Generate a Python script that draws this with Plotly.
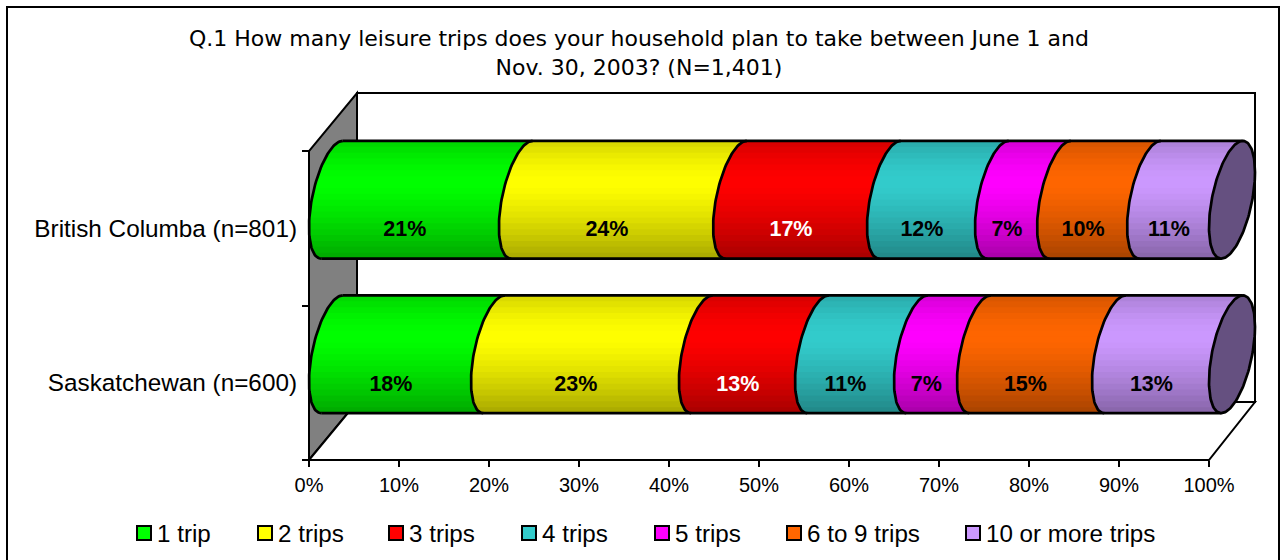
import numpy as np
import plotly.graph_objects as go

# ---- data ----
title_text = "Q.1 How many leisure trips does your household plan to take between June 1 and<br>Nov. 30, 2003? (N=1,401)"
series_names = ["1 trip", "2 trips", "3 trips", "4 trips", "5 trips", "6 to 9 trips", "10 or more trips"]
categories = ["Saskatchewan (n=600)", "British Columba (n=801)"]
saskatchewan_values = [18.0, 23.1, 12.9, 11.0, 7.0, 15.0, 13.0]
british_columbia_values = [21.1, 23.8, 17.1, 12.0, 6.9, 10.0, 9.1]
saskatchewan_labels = ["18%", "23%", "13%", "11%", "7%", "15%", "13%"]
british_columbia_labels = ["21%", "24%", "17%", "12%", "7%", "10%", "11%"]
x_ticks = [0, 10, 20, 30, 40, 50, 60, 70, 80, 90, 100]

# ---- styles ----
colors = ["#00FF00", "#FFFF00", "#FF0000", "#33CCCC", "#FF00FF", "#FF6600", "#CC99FF"]
label_colors = ["black", "black", "white", "black", "black", "black", "black"]
cap_color = "#655080"
FONT = "Liberation Sans"
TITLE_FONT = "DejaVu Sans"

W, H = 1281, 560
AX_L, AX_R, AX_T, AX_B = 309, 1209, 151, 460  # axis rectangle in the page (0-100 %, 0-2 categories)
XU = (AX_R - AX_L) / 100.0                    # page px per percent
YU = (AX_B - AX_T) / 2.0                      # page px per category
PL, PR, PT, PB = 298, 1270, 80, 472           # plotting area, big enough to hold the 3-D walls
X_RANGE = [(PL - AX_L) / XU, (PR - AX_L) / XU]
Y_RANGE = [(AX_B - PB) / YU, (AX_B - PT) / YU]

# cylinder projection, px converted to axis units
BAR_DX = 46 / XU
BAR_DY = 55 / YU
BAR_H = 104 / YU
BAR_LIFT = 28.5 / YU
WALL_DXL = 48 / XU
WALL_DXR = 46 / XU
WALL_DY = 58 / YU
LABEL_DROP = 2.5 / YU
N_BANDS = 20


def shade(hex_color, f):
    r, g, b = int(hex_color[1:3], 16), int(hex_color[3:5], 16), int(hex_color[5:7], 16)
    return "rgb(%d,%d,%d)" % (r * f, g * f, b * f)


def band_factor(u):
    """u = 0 at top of cylinder, 1 at bottom"""
    if u < 0.37:
        return 0.84 + (1 - 0.84) * np.sin(u / 0.37 * np.pi / 2)
    return 1 - (1 - 0.66) * ((u - 0.37) / 0.63) ** 1.3


def px_x(px):
    return (px - PL) / (PR - PL)


def px_y(px):
    return (PB - px) / (PB - PT)


t = np.radians(np.linspace(0, 360, 145))


def ellipse(x0, yc):
    return (x0 + BAR_DX / 2 + BAR_DX / 2 * np.cos(t),
            yc + BAR_DY / 2 * np.cos(t) + BAR_H / 2 * np.sin(t))


half_y = np.hypot(BAR_DY, BAR_H) / 2
tt = np.arctan2(BAR_H, BAR_DY)
arc_t = np.linspace(tt, tt + np.pi, 61)
arc_dx = BAR_DX / 2 + BAR_DX / 2 * np.cos(arc_t)     # offset in x from the bar's value
arc_dy = BAR_DY / 2 * np.cos(arc_t) + BAR_H / 2 * np.sin(arc_t)  # offset in y, top to bottom


def left_x(dy):
    return np.interp(-dy, -arc_dy, arc_dx)


rows = [(c, v, l) for c, v, l in zip([0.5, 1.5],
                                     [saskatchewan_values, british_columbia_values],
                                     [saskatchewan_labels, british_columbia_labels])]

fig = go.Figure()

# shaded strips, one trace per series per band
edges = np.linspace(half_y, -half_y, N_BANDS + 1)
for s, col in enumerate(colors):
    for b in range(N_BANDS):
        xs, ys = [], []
        for cat, vals, _ in rows:
            start = float(np.sum(vals[:s]))
            end = start + vals[s]
            yc = cat + BAR_LIFT
            d = np.linspace(edges[b], edges[b + 1] - (0.8 / YU if b < N_BANDS - 1 else 0), 5)
            d = np.clip(d, -half_y, half_y)
            lx = left_x(d)
            xs += list(start + lx) + list(end + lx[::-1]) + [None]
            ys += list(yc + d) + list(yc + d[::-1]) + [None]
        fig.add_trace(go.Scatter(x=xs, y=ys, mode="lines", fill="toself",
                                 fillcolor=shade(col, band_factor((b + .5) / N_BANDS)),
                                 line=dict(width=0), hoverinfo="skip", showlegend=False))

# black outlines of each segment
ox, oy = [], []
for cat, vals, _ in rows:
    yc = cat + BAR_LIFT
    cum = np.cumsum([0] + vals)
    for c in cum[:-1]:
        ox += list(c + arc_dx) + [None]
        oy += list(yc + arc_dy) + [None]
    ox += [left_x(half_y), cum[-1] + left_x(half_y), None, left_x(-half_y), cum[-1] + left_x(-half_y), None]
    oy += [yc + half_y, yc + half_y, None, yc - half_y, yc - half_y, None]
fig.add_trace(go.Scatter(x=ox, y=oy, mode="lines", line=dict(color="black", width=2.7), hoverinfo="skip",
                         showlegend=False))

# end caps
for cat, vals, _ in rows:
    ex, ey = ellipse(float(np.sum(vals)), cat + BAR_LIFT)
    fig.add_trace(go.Scatter(x=ex, y=ey, mode="lines", fill="toself", fillcolor=cap_color,
                             line=dict(color="black", width=2.7), hoverinfo="skip", showlegend=False))

# value labels
lx, ly, lt, lc = [], [], [], []
for cat, vals, labs in rows:
    cum = np.cumsum([0] + vals)
    for s in range(len(vals)):
        lx.append((cum[s] + cum[s + 1]) / 2 + 0.1)
        ly.append(cat - LABEL_DROP)
        lt.append(labs[s])
        lc.append(label_colors[s])
fig.add_trace(go.Scatter(x=lx, y=ly, mode="text", text=lt, textposition="middle center",
                         textfont=dict(family=FONT, size=21.5, color=lc, weight="bold"),
                         hoverinfo="skip", showlegend=False))

shapes = [
    # outer frame
    dict(type="rect", xref="paper", yref="paper", x0=px_x(7), x1=px_x(1279), y0=px_y(575), y1=px_y(7),
         line=dict(color="black", width=2), layer="below"),
    # back wall
    dict(type="rect", x0=WALL_DXL, x1=100 + WALL_DXR, y0=WALL_DY, y1=2 + WALL_DY,
         line=dict(color="black", width=2), fillcolor="white", layer="below"),
    # left wall
    dict(type="path", path=f"M 0 0 L 0 2 L {WALL_DXL} {2 + WALL_DY} L {WALL_DXL} {WALL_DY} Z",
         line=dict(color="black", width=2), fillcolor="#808080", layer="below"),
    # floor
    dict(type="path", path=f"M 0 0 L {WALL_DXL} {WALL_DY} L {100 + WALL_DXR} {WALL_DY} L 100 0 Z",
         line=dict(color="black", width=2), fillcolor="white", layer="below"),
]

# legend
legend_swatch_px = [137, 258, 389, 522, 655, 787, 966]
annotations = []
for name, col, px in zip(series_names, colors, legend_swatch_px):
    shapes.append(dict(type="rect", xref="paper", yref="paper", x0=px_x(px), x1=px_x(px + 14),
                       y0=px_y(540), y1=px_y(526), fillcolor=col, line=dict(color="black", width=2)))
    annotations.append(dict(xref="paper", yref="paper", x=px_x(px + 18), y=px_y(533),
                            text=name, showarrow=False, xanchor="left", yanchor="middle",
                            font=dict(family=FONT, size=24.2, color="black")))

# title
annotations.append(dict(xref="paper", yref="paper", x=px_x(639), y=px_y(53),
                        text=title_text, showarrow=False, xanchor="center", yanchor="middle", align="center",
                        font=dict(family=TITLE_FONT, size=22, color="black")))

fig.update_layout(
    width=W, height=H, autosize=False,
    margin=dict(l=PL, r=W - PR, t=PT, b=H - PB, pad=0),
    paper_bgcolor="white", plot_bgcolor="rgba(0,0,0,0)",
    showlegend=False, hovermode=False,
    shapes=shapes, annotations=annotations,
    xaxis=dict(range=X_RANGE, tickvals=x_ticks, ticktext=[f"{v}%" for v in x_ticks],
               anchor="free", position=px_y(AX_B),
               ticks="outside", ticklen=6, tickwidth=2, tickcolor="black",
               showline=False, showgrid=False, zeroline=False, ticklabelstandoff=1,
               tickfont=dict(family=FONT, size=20, color="black"), layer="below traces"),
    yaxis=dict(range=Y_RANGE, tickvals=[0, 1, 2], ticktext=["", "", ""],
               anchor="free", position=px_x(AX_L),
               ticks="outside", ticklen=7, tickwidth=2, tickcolor="black",
               showline=False, showgrid=False, zeroline=False,
               layer="below traces"),
    yaxis2=dict(range=Y_RANGE, overlaying="y", side="left", anchor="free", position=px_x(AX_L),
                tickvals=[0.5, 1.5], ticktext=categories,
                ticks="", showline=False, showgrid=False, zeroline=False, ticklabelstandoff=12,
                tickfont=dict(family=FONT, size=24.3, color="black")),
    font=dict(family=FONT),
)
# carrier so yaxis2 renders its tick labels
fig.add_trace(go.Scatter(x=[None], y=[None], yaxis="y2", mode="lines", hoverinfo="skip", showlegend=False))

fig.write_html("out.html", config=dict(displayModeBar=False),
               post_script="document.body.style.margin='0';")
